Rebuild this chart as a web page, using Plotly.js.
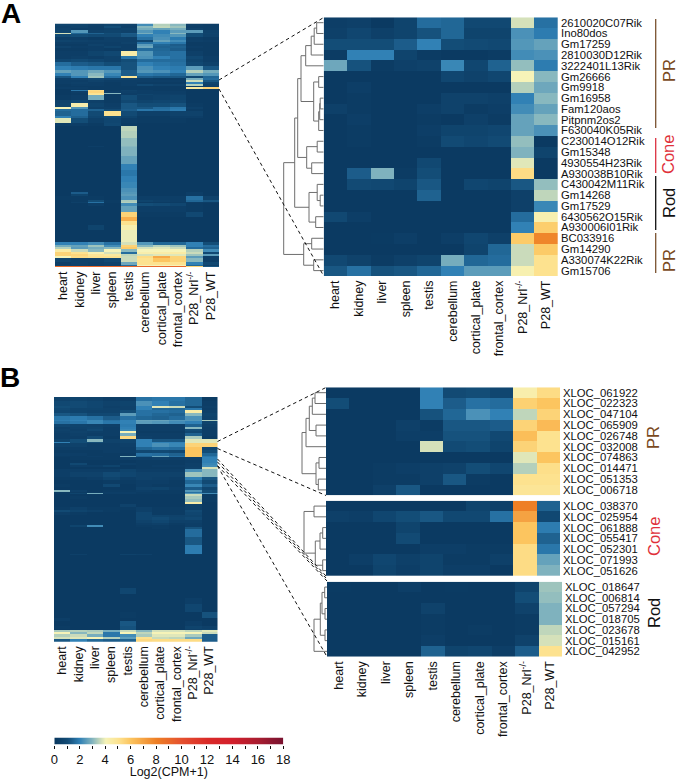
<!DOCTYPE html>
<html><head><meta charset="utf-8">
<script src="https://cdn.plot.ly/plotly-3.0.1.min.js"></script>
<style>html,body{margin:0;padding:0;background:#fff}</style></head>
<body><div id="c" style="width:677px;height:779px"></div>
<script>
const tissues=['heart','kidney','liver','spleen','testis','cerebellum','cortical_plate','frontal_cortex','P28_Nrl<sup>-/-</sup>','P28_WT'];
const colorStops=[[0,'#0a3860'],[0.055,'#134c76'],[0.11,'#2f80b5'],[0.165,'#85b6bf'],[0.222,'#f6f3b8'],[0.278,'#fde28f'],[0.333,'#fcc55f'],[0.444,'#ee7f25'],[0.555,'#e5512f'],[0.667,'#da2a28'],[0.778,'#d31f2c'],[0.889,'#a81d30'],[1,'#781230']];
const scaleValues=[0,1,2,3,4,5,6,7,8,9,10,11,12,13,14,15,16,17,18];

const genesA=['2610020C07Rik','Ino80dos','Gm17259','2810030D12Rik','3222401L13Rik','Gm26666','Gm9918','Gm16958','Fam120aos','Pitpnm2os2','F630040K05Rik','C230014O12Rik','Gm15348','4930554H23Rik','A930038B10Rik','C430042M11Rik','Gm14268','Gm17529','6430562O15Rik','A930006I01Rik','BC033916','Gm14290','A330074K22Rik','Gm15706'];
const detailA=[
[.3,.4,.1,.6,1.6,1.5,.8,.8,3.7,1.7],[.4,.7,.4,.6,1.1,1.5,.6,.6,2.3,1.9],[1,1,1,1.3,2,1,.9,.8,2.4,2.6],[.2,2,2,.6,.2,.1,.1,.2,2.2,2.3],[2.7,1.1,.2,.4,.5,2.1,.7,1.4,3.1,1.9],
[.1,.1,.1,.1,.1,.7,.5,.7,4,3],[.1,.3,.1,.1,.1,.1,.1,.1,3.4,2.7],[.1,.2,.1,.1,.1,.5,.5,.4,2,3],[.4,.2,.1,.1,.3,.5,.2,.3,2.2,2.6],[.1,.3,.1,.1,.2,.1,.4,.2,2.6,3],[.1,.2,.1,.1,.3,.6,.6,.7,2.6,2.3],
[.1,.2,.1,.1,.2,.9,.7,.9,3.1,.1],[.1,.1,.1,.1,.1,.1,.1,.1,2.9,.6],[.1,.1,.1,.1,.8,.1,.1,.1,3.8,.1],[.1,1.3,2.9,.2,1,.1,.1,.1,5.2,.1],
[.1,.9,.8,.6,1.2,.1,.7,.6,1.2,3.1],[.1,.1,.1,.1,1.4,.1,.1,.1,.4,3.5],[.1,.1,.1,.1,.1,.1,.1,.1,.4,2.1],[.8,.3,.1,.1,.1,.1,.1,.1,1.6,4.2],[.1,.1,.1,.1,.1,.1,.1,.1,2,5.7],
[.1,.1,.15,.3,.1,.3,.7,.4,5.8,7.8],[.1,.1,.1,.1,.1,.1,.6,1.5,3.6,5.8],[.8,.5,.2,.4,.6,2.8,1.5,1.6,3.6,5],[1.2,1.7,1.1,1.2,1.5,2,2.5,2.5,4.2,5]];
const genesBPR=['XLOC_061922','XLOC_022323','XLOC_047104','XLOC_065909','XLOC_026748','XLOC_032008','XLOC_074863','XLOC_014471','XLOC_051353','XLOC_006718'];
const detailBPR=[
[.1,.1,.1,.1,2,.9,1,.7,4.3,5.2],[1,.1,.1,.1,2,1.3,1.7,1.6,5.6,6],[.1,.1,.1,.1,1.1,1.5,2.3,2,3.5,5.5],[.1,.1,.1,.4,.2,1.2,1.2,1.3,5.5,6.3],[.1,.1,.1,.3,.3,1.1,1.1,.8,6.2,5],
[.1,.1,.1,.1,3.7,.9,1,.6,5.5,5],[.1,.1,.1,.1,.1,.1,.1,.1,3.8,6],[.1,.1,.2,.3,.4,.5,1,.7,3.4,5.1],[.1,.1,.2,.2,.4,1.2,.2,.1,5,5],[.1,.1,.4,1.2,.1,.1,.1,.1,4.8,4.8]];
const genesBCone=['XLOC_038370','XLOC_025954','XLOC_061888','XLOC_055417','XLOC_052301','XLOC_071993','XLOC_051626'];
const detailBCone=[
[.1,.1,.1,.1,.1,.1,.6,.4,8,1.4],[.4,.3,.7,1,1.2,.8,.8,1.7,7,.8],[.1,.1,.1,.6,.1,.1,.1,.1,6,1.9],[.1,.1,.1,.9,.1,.1,.1,.1,6,1.4],[.1,.1,.1,.1,.3,.3,.2,.2,5.2,1.8],[.1,.3,.7,.4,.6,.2,.2,.4,5.2,2.6],[.1,.1,.6,.3,.6,.3,.3,.1,5.2,2.9]];
const genesBRod=['XLOC_018647','XLOC_006814','XLOC_057294','XLOC_018705','XLOC_023678','XLOC_015161','XLOC_042952'];
const detailBRod=[
[.15,.1,.1,.3,.1,.15,.1,.1,.6,3.2],[.1,.1,.1,.1,.1,.1,.1,.1,1,3.1],[.1,.1,.1,.1,.5,.1,.1,.1,.5,2.9],[.1,.1,.1,.1,.2,.1,.1,.1,.2,2.9],[.1,.1,.1,.1,.2,.1,.2,.1,.2,3.5],[.1,.1,.1,.1,.3,.1,.1,.1,.5,3.7],[.1,.1,.1,.1,1.4,.6,.7,.3,1.3,5]];

// overview heatmaps: [rows repeated, ...ten tissue values]
const overviewA=[
[2,.6,.6,.4,.6,.5,2.2,3.4,3,.4,.3],[2,.4,.5,.3,1,.4,3,3.5,3.2,.3,.3],[2,.5,.3,.3,.5,.6,2.8,2.6,2.8,.5,.3],[3,.6,2.4,.5,.6,.5,2.4,2,2.5,2.5,.5],
[1,3.7,1.5,1.4,1,1.3,2.8,2,3,1,.6],[3,.9,1,.9,.9,1.2,2,2.2,2.4,1,.5],[3,.3,.3,.2,.4,.4,1.7,2.3,1.9,.3,.2],
[2,.6,.5,.4,.4,.4,.8,2.6,2.2,.4,.3],[2,.3,.3,.3,.3,.5,1.7,2,1.8,.2,.2],[2,.2,.2,.5,.3,.3,2.5,1.5,1.3,.2,.2],[2,.5,.3,.3,.6,.3,2.7,1.4,1.4,.3,.2],[3,.2,.2,.3,.2,.3,1.6,1.5,1.3,.2,.2],
[5,.3,.3,.6,.8,4.4,2.4,1.6,1.7,.4,.2],[3,.3,.4,.3,.5,1.8,2.3,2,1.7,.8,.3],[3,.7,.9,.7,.5,1,1.6,1.6,1.6,.6,.3],
[4,1.6,1.3,1.2,1,1.1,2,1.8,1.7,.8,.5],[4,2,1.9,1.8,1.8,1.1,2.3,2,1.9,2.5,1.2],[3,2.6,2.4,2.7,2.4,1.3,2.4,2.3,2,3.4,2.8],[3,2,2.4,3,2.1,1.3,1.8,1.7,1.5,2.6,2.4],
[2,1.2,2,3.2,1.7,4.8,1.3,1.2,1.2,.9,1.5],[2,.4,.6,.8,.6,.5,.3,.2,.2,2.8,1.6],[2,.3,.3,.5,.3,.3,.3,.3,.3,3.6,1.2],[2,.3,.4,.3,.2,.3,.2,.2,.2,2,.6],[2,.2,.3,.3,.2,.3,.8,.5,.5,3.4,.4],[1,.2,.2,.2,.2,.2,.2,.2,.2,.3,.3],
[2,.3,.3,.2,.2,.2,.2,.2,.2,4.6,5.5],[1,.1,.2,.2,.2,.2,.2,.2,.2,.1,.1],[1,.1,1.8,5.2,.2,.5,.3,.2,.2,.1,.1],[2,.1,.3,5.4,.3,.4,.3,.3,.3,.1,.1],[1,.1,.2,5,3,.3,.3,.3,.3,.1,.1],[1,.1,.2,4.8,.2,.3,.6,.4,.4,.1,.1],
[5,.2,.3,2.8,.2,1,.4,.5,.6,.1,.1],[3,.5,.8,.4,.2,.8,.6,.7,.7,.1,.1],[4,.6,4.3,.6,.3,1.2,1,1,1.1,.2,.1],[2,4,2.4,.4,.4,1.2,1.2,1.6,1.8,.4,.1],[2,1.6,1.6,1.4,.9,1.3,1.8,1.7,1.9,.2,.1],
[5,1.4,1.6,.9,5,.9,.4,.4,.5,.5,.1],[2,2,1.4,.7,1,.6,.2,.2,.3,.3,.1],[5,3.8,1,.4,.7,.3,.2,.2,.2,.1,.1],[3,.3,.3,.2,.8,.2,.1,.1,.1,.1,.1],
[5,.1,.1,.1,.1,3.5,.1,.1,.1,.1,.1],[7,.1,.1,.1,.1,3.4,.1,.1,.1,.1,.1],[8,.1,.1,.1,.1,3.1,.1,.1,.1,.1,.1],[1,.1,.1,.3,.1,3,.1,.1,.1,.1,.1],[9,.1,.1,.1,.1,2.9,.1,.1,.1,.1,.1],[8,.1,.1,.1,.1,2.6,.1,.1,.1,.1,.1],
[6,.1,.1,.1,.1,2,.1,.1,.1,.1,.1],[6,.1,.1,.1,.1,1.8,.1,.1,.1,.1,.1],[6,.1,.1,.1,.1,2,.1,.1,.1,.1,.1],[6,.1,.1,.1,.1,2.1,.1,.1,.1,.1,.1],
[4,.1,.1,.1,.1,2.3,.1,.1,.1,.1,.1],[2,.1,1.3,.1,.1,2.4,.1,.1,.1,.3,.1],[2,.1,.6,.1,.1,2.5,.1,.1,.1,.3,.1],[4,.2,.2,.2,.1,2.3,.3,.3,.3,1.7,.5],[2,.1,.2,1,.2,3.3,.6,.4,.3,1.5,1.2],[1,.1,.4,1.7,.2,3.4,.2,.2,.2,.3,.3],[3,.1,.1,.3,.1,2.2,1,.9,.7,.2,.1],[6,.1,.1,.1,.1,2.6,.3,.3,.3,.2,.1],
[5,.1,.1,.1,.1,5.5,.2,.2,.2,.8,.1],[4,.1,.1,.1,.1,6.6,.1,.1,.1,.1,.1],[4,.1,.1,.1,.1,5,.1,.1,.1,.1,.1],[5,.1,.1,.6,.1,4.3,.1,.1,.1,.1,.1],[12,.1,.1,.1,.1,3.9,.1,.1,.1,.1,.1],
[3,2,2,2.2,1.7,3.7,2.4,1.5,1.5,2,1],[2,2.8,2.6,3.2,2.2,5.5,3,3.4,3.2,2,1.6],[2,3.4,2.5,2.8,3,5.8,3.7,3.8,3.6,1.6,1.4],[3,4.5,3.6,3,4,3,4,4,4,3.4,2.2],[2,5.5,5,4.2,3.7,1.6,4.3,4.4,4.5,3.6,.8],[2,5.5,5.4,4.8,4.6,3.5,3.7,3.8,3.8,3.2,2.5],[2,4,5.2,5,5,3.6,5.2,6.8,5.5,2.5,.3],[4,.7,.5,.5,.8,3.6,5,6,5.5,3,.3],[3,.3,.5,.4,.5,2.7,5,5,5,2,.8],[1,.5,.5,.4,.5,1.6,4,4,4,1.5,.4],[2,8.8,9,9,9,9,9,9,9,5.5,1.2]];
const overviewB=[
[4,.5,.6,.5,.3,.3,1.7,1.8,1.8,1.5,.2],[5,.8,.9,.7,.5,.6,2.3,2,1.7,1.5,.3],[2,1,.9,.7,.4,.5,2,3.8,3.6,1,.4],[2,.8,.6,.6,.5,.5,2,1.5,1.5,1.8,.3],[3,.7,.6,.5,.5,1,1.7,1.7,1.6,4.4,.4],
[3,1.2,1.1,.8,.8,2.5,1.7,1.5,1.4,3,.6],[4,1.8,1.9,1.7,1.3,1.7,1.5,1.4,1.6,2.3,.5],[1,1.9,2,2.1,1.7,2,2.6,2.6,2.4,2.4,3.3],[3,1.7,1.8,2.1,1.8,2,2.5,2.4,2.2,2,.6],
[3,.7,.6,.5,.4,1.9,.3,.3,.3,1.4,.4],[2,.4,.5,.6,.3,2,.3,.3,.3,3,.3],[2,.5,.4,.8,.3,2.1,.3,.3,.3,1,.3],[2,.4,.5,.4,.3,4,.2,.2,.2,.8,.3],[3,.3,.4,.3,.3,2.8,.3,.3,.3,1.4,.3],[3,.3,.3,.9,.2,5.3,.4,.3,.3,3.3,.2],
[3,.6,1,3,.5,.6,2,1.2,1.2,3.8,3.8],[1,2,1,1,.5,.6,2,2,2,3.8,3.8],[4,.5,.5,.3,.3,.4,2,2.3,2.1,5.5,5.5],[3,.3,.3,.3,.3,.3,1.5,1.7,1.6,6,.7],[3,.2,.2,.2,.3,.3,.8,.9,.8,6,1],[3,.3,.3,.2,.2,.2,1.7,1.6,1.4,6,1.5],[1,.2,.2,.3,.2,2.9,1.4,2.6,1.7,6,1.8],
[2,.1,.2,.2,.2,.3,.3,.4,.3,.4,2],[3,.1,.1,.1,.1,.1,.2,.2,.2,.3,2],[2,.1,.8,.1,.1,.3,.2,.2,.2,.4,2.1],[2,.1,.3,.3,.6,.1,.2,.3,.3,.4,2.2],[2,.1,.1,.1,.1,.1,.2,.2,.2,.5,3.7],[3,.3,.3,.3,.3,.6,.3,.3,.3,2.3,3],[5,.3,.5,.5,.9,.7,.5,.5,.5,3.2,3],
[3,.2,.2,.3,.6,.3,.5,.4,.3,2,1.2],[4,.1,.1,.1,.2,.2,.3,.3,.2,1.5,.9],[3,.2,.1,.1,.8,.1,.3,.2,.2,2.1,1.3],[3,.1,.1,.1,.1,.1,.5,.6,.3,1.3,.7],[2,3,.4,.1,.2,.2,.3,.2,.2,2.4,1],[1,.2,.2,.2,.3,.3,.2,.2,.2,1.7,1],[1,.2,.6,2.8,.3,.3,.2,.2,.2,2.4,2.2],
[2,.1,.1,.1,.1,.1,.1,.1,.1,3.6,.2],[3,.1,.2,.1,.1,.1,.1,.1,.1,3.3,.2],[3,.1,.1,.1,.1,.1,.1,.1,.1,3.1,.2],[2,.1,.1,.1,.1,.1,.1,.1,.1,4.4,.1],[3,.1,.1,.1,.1,.5,.1,.1,.1,.4,.1],[3,.2,.4,.2,.2,.2,.4,.2,.2,.4,.1],[2,.9,.6,.4,.2,.1,.4,.2,.2,.9,.1],[3,.3,.2,.1,.1,.1,.7,.2,.2,.7,.1],[2,.1,.1,.1,.1,.1,.7,.6,.5,.6,.1],
[3,.1,.1,.1,.1,.1,.7,.9,.6,.8,.1],[3,.1,.1,.1,.1,.1,.5,.7,.4,.4,.1],[2,.1,.1,.1,.1,.1,.3,.4,.2,.3,.1],[2,.1,.6,2.2,.1,.1,.2,.2,.1,.3,.1],[2,.1,.1,.1,.1,.1,.1,.2,.1,1.1,.1],[8,.1,.1,.1,.1,.1,.1,.1,.1,1.6,.1],[8,.1,.1,.1,.1,.1,.1,.1,.1,1.2,.1],[9,.1,.1,.1,.1,.1,.1,.1,.1,1.9,.1],[1,.1,.4,.1,.1,.5,.4,.1,.1,.2,.1],
[16,.1,.1,.1,.1,.1,.1,.1,.1,.1,.1],[16,.1,.1,.1,.1,.1,.1,.1,.1,.1,.1],[6,.1,.1,.1,.1,.7,.1,.1,.1,.1,.1],[4,.1,.1,.1,.1,.1,.1,.1,.1,.1,.1],[6,.1,.1,.1,.1,.1,.1,.1,.1,.3,.1],[8,.1,.1,.1,.1,.1,.1,.1,.1,.7,.1],[6,.1,.1,.1,.1,.2,.1,.1,.1,.1,1.1],
[3,.3,.1,.1,.1,.1,.1,.1,.1,.1,.1],[5,.1,.1,.1,.1,1.2,.1,.1,.1,.3,.1],[3,.2,.1,.1,.1,1.1,.1,.1,.1,.6,.4],[1,.1,.1,.1,.1,1.1,.1,.1,.1,.4,.6],[2,3.3,3.4,3.3,2.8,3.6,3,3.7,3.7,3.5,3.8],[2,4,3,3.5,1.8,4,3.5,4,4,4,3.6],[3,3.4,3.6,2.8,1.8,2.2,3.3,3.8,3.8,3.3,1.3],[2,3.7,3.8,4,3.4,2.5,5,3.6,3.5,2.7,1.3],[3,1.2,2,1.5,1.3,1.4,5.3,5.2,5.2,5.2,1.3]];

// dendrograms: [merge height, left, right], a number is a leaf row
const treeA=[40,[29,[26,[22.7,[18,[12.5,[9.5,[7,0,1],2],3],4],[10,[5,5,6],[5,[4,[3.5,7,8],9],10]]],[17,[6.5,11,12],[12,13,14]]],[14.7,[6.5,15,[3.5,16,17]],[8,18,19]]],[20,[12,20,21],[10,22,23]]];
const treeBPR=[24,[20,[16.7,[13.7,[11,0,1],2],[10,3,4]],5],[10,[7,6,7],[7.7,8,9]]];
const treeBCone=[22,[12,0,1],[10.7,[6,[3.3,2,3],4],[3.3,5,6]]];
const treeBRod=[13,[6.7,[5,[2.3,0,1],[2,2,3]],[2,4,5]],6];

const W=677,H=779;
const px=(x)=>x/W, py=(y)=>1-y/H;
function expand(bands){const z=[];bands.forEach(b=>{for(let i=0;i<b[0];i++)z.push(b.slice(1));});return z;}
function treeSegments(t){const xs=[],ys=[];
  (function go(n){ if(typeof n==='number')return {y:n,h:0};
    const a=go(n[1]),b=go(n[2]),h=n[0];
    xs.push(a.h,h,h,b.h,null);ys.push(a.y,a.y,b.y,b.y,null);
    return {y:(a.y+b.y)/2,h};})(t);
  return {xs,ys};}

const FAMILY='Liberation Sans, Arial, sans-serif';
const tickFont={family:FAMILY,size:12.5,color:'#111'};
const labelFont={family:FAMILY,size:11.3,color:'#111'};
const layout={width:W,height:H,margin:{l:0,r:0,t:0,b:0},paper_bgcolor:'#fff',plot_bgcolor:'#fff',showlegend:false,autosize:false,
 coloraxis:{cmin:0,cmax:18,colorscale:colorStops,showscale:false},
 shapes:[],annotations:[]};
const traces=[];
let ax=0;
function panel(z,left,right,top,bottom,labels,tree,treeW){
  ax++;const id=ax===1?'':ax;const n=z.length;
  const xd=Array.from(tissues.keys());
  traces.push({type:'heatmap',z:z,x:xd,y:Array.from(z.keys()),coloraxis:'coloraxis',xaxis:'x'+id,yaxis:'y'+id,hoverinfo:'skip',zsmooth:false});
  layout['xaxis'+id]={domain:[px(left),px(right)],range:[-.5,9.5],anchor:'y'+id,tickmode:'array',tickvals:xd,ticktext:tissues,tickangle:-90,ticks:'',showline:false,showgrid:false,zeroline:false,tickfont:tickFont,showticklabels:true,fixedrange:true,ticklabelstandoff:1};
  layout['yaxis'+id]={domain:[py(bottom),py(top)],range:[n-.5,-.5],anchor:'x'+id,showgrid:false,zeroline:false,showline:false,ticks:'',fixedrange:true,showticklabels:!!labels,side:'right',tickmode:labels?'array':undefined,tickvals:labels?Array.from(labels.keys()):undefined,ticktext:labels||undefined,tickfont:labelFont,ticklabelstandoff:2};
  if(tree){const s=treeSegments(tree);const dx=100+ax;
    traces.push({type:'scatter',mode:'lines',x:s.xs,y:s.ys,xaxis:'x'+dx,yaxis:'y'+id,line:{color:'#6e6e6e',width:1},hoverinfo:'skip',connectgaps:false});
    layout['xaxis'+dx]={domain:[px(left-treeW),px(left)],range:[treeW,0],anchor:'y'+id,visible:false,fixedrange:true};
  }
}
panel(expand(overviewA),55,219,23.5,267,null);
panel(detailA,323.7,558,17.3,276,genesA,treeA,42);
panel(expand(overviewB),54,217.5,397,641.7,null);
panel(detailBPR,326,560,387.3,495.3,genesBPR,treeBPR,26);
panel(detailBCone,326,560,500.7,576,genesBCone,treeBCone,24);
panel(detailBRod,327,562,581.7,656.7,genesBRod,treeBRod,15);
layout.xaxis4.showticklabels=false;layout.xaxis5.showticklabels=false;

// colour scale drawn as a heatmap of the scale values, on its own labelled axis
traces.push({type:'heatmap',z:[scaleValues],x:scaleValues,y:[0],coloraxis:'coloraxis',xaxis:'x7',yaxis:'y7',zsmooth:'best',hoverinfo:'skip'});
layout.xaxis7={domain:[px(54.3),px(283.3)],range:[0,18],anchor:'y7',tick0:0,dtick:2,ticks:'outside',ticklen:3,tickwidth:1,tickcolor:'#111',showgrid:false,zeroline:false,showline:false,fixedrange:true,tickfont:{family:FAMILY,size:13,color:'#111'},
  minor:{dtick:1,ticks:'outside',ticklen:3,tickwidth:1,tickcolor:'#111',showgrid:false},
  title:{text:'Log2(CPM+1)',standoff:5,font:{family:FAMILY,size:12.5,color:'#111'}}};
layout.yaxis7={domain:[py(744.5),py(737.5)],anchor:'x7',range:[-.5,.5],visible:false,fixedrange:true};

function dash(x0,y0,x1,y1){layout.shapes.push({type:'line',xref:'paper',yref:'paper',x0:px(x0),y0:py(y0),x1:px(x1),y1:py(y1),line:{color:'#111',width:1,dash:'3.5px,3px'}});}
dash(219,80,323.7,17.5);dash(219,89,323.7,276);
dash(217.5,441.5,326,387.5);dash(217.5,448.5,326,495.5);
dash(217.5,459,326,576);dash(217.5,462,326,578);dash(217.5,465.5,327,581);dash(217.5,466,327,656.7);
function bar(x,y0,y1,c){layout.shapes.push({type:'line',xref:'paper',yref:'paper',x0:px(x),x1:px(x),y0:py(y0),y1:py(y1),line:{color:c,width:1.3}});}
const brown='#7a5230',coneRed='#dc3240',rodBlack='#111';
bar(655.7,19,128,brown);bar(655.7,138,173,coneRed);bar(655.7,176,230,rodBlack);bar(655.7,233,273,brown);
function note(t,x,y,size,color,angle,bold){const a={text:bold?'<b>'+t+'</b>':t,xref:'paper',yref:'paper',x:px(x),y:py(y),xanchor:'center',yanchor:'middle',showarrow:false,textangle:angle,borderpad:0,font:{family:FAMILY,size:size,color:color}};layout.annotations.push(a);return a;}
[['PR',71,'#7a4a1e'],['Cone',155,'#e0303a'],['Rod',203,'#111'],['PR',261,'#7a4a1e']].forEach(g=>{note(g[0],668,g[1],16.5,g[2],-90).height=17;});
note('PR',653,438,16.5,'#7a4a1e',-90);note('Cone',654,537,16.5,'#e0303a',-90);note('Rod',654,613,16.5,'#111',-90);
note('A',11,13,28,'#000',0,true).height=24;note('B',10,377,28,'#000',0,true);

Plotly.newPlot('c',traces,layout,{displayModeBar:false,staticPlot:true});
</script></body></html>
